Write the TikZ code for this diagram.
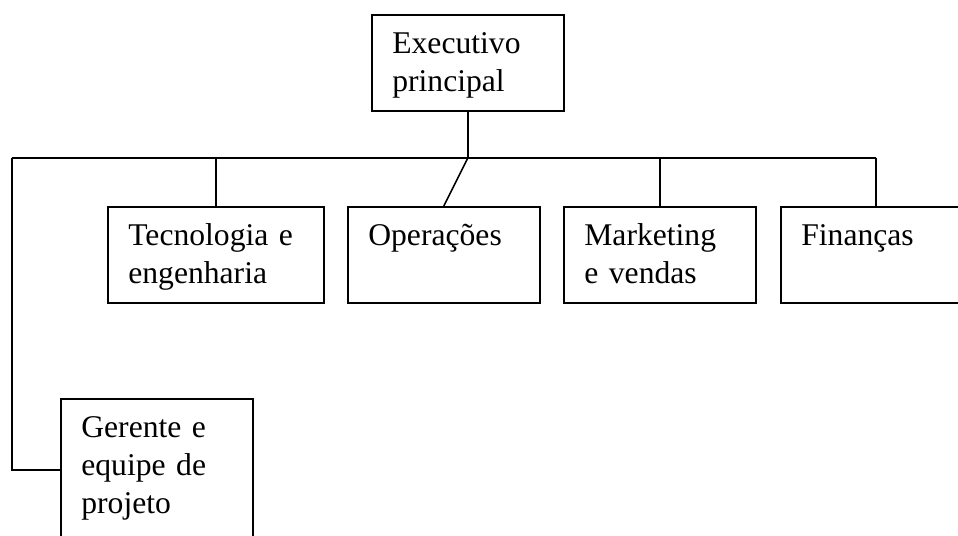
\documentclass[tikz,border=0pt]{standalone}
\usepackage{fontspec}
\setmainfont{Liberation Serif}
\usetikzlibrary{positioning}

\tikzset{
  unit/.style={draw, line width=0.9pt, inner sep=0pt, anchor=north west, minimum height=1.92cm},
  txt/.style={anchor=base west, inner sep=0pt, text width=3.6cm, align=left,
              font=\fontsize{18}{21.6}\selectfont, xshift=0.42cm, yshift=-0.8cm},
  link/.style={line width=0.9pt}
}

\begin{document}
\begin{tikzpicture}[x=0.02cm, y=-0.02cm]
  \clip (0,0) rectangle (958,536) ;
  \useasboundingbox (0,0) rectangle (958,536) ; %page size in px

  %Boxes
  \node[unit, minimum width=3.84cm] (ex) at (371,14) {} ;   %Top executive
  \node[unit, minimum width=4.32cm] (tec) at (107,206) {} ; %Tech
  \node[unit, minimum width=3.84cm] (ops) at (347,206) {} ; %Operations
  \node[unit, minimum width=3.84cm] (mkt) at (563,206) {} ; %Marketing
  \node[unit, minimum width=3.80cm] (fin) at (780,206) {} ; %Finance
  \node[unit, minimum width=3.84cm, minimum height=2.84cm] (ger) at (60,398) {} ; %Project

  %Texts
  \node[txt] (ex-t) at (ex.north west) {Executivo\\principal} ;
  \node[txt] (tec-t) at (tec.north west) {Tecnologia e\\engenharia} ;
  \node[txt] (ops-t) at (ops.north west) {Operações} ;
  \node[txt] (mkt-t) at (mkt.north west) {Marketing\\e vendas} ;
  \node[txt] (fin-t) at (fin.north west) {Finanças} ;
  \node[txt] (ger-t) at (ger.north west) {Gerente e\\equipe de\\projeto} ;

  %Bus line
  \coordinate (bus) at (0,158) ;
  \coordinate (lft) at (12,158) ;
  \coordinate (rgt) at (fin.north |- bus) ;
  \draw[link] (lft) -- (rgt) ;
  \draw[link] (ex.south) -- (ex.south |- bus) ;

  %Drops to the boxes
  \draw[link] (tec.north |- bus) -- (tec.north) ;
  \draw[link] (ex.south |- bus) -- (ops.north) ;
  \draw[link] (mkt.north |- bus) -- (mkt.north) ;
  \draw[link] (rgt) -- (fin.north) ;
  \draw[link] (lft) |- (ger.west) ;
\end{tikzpicture}
\end{document}
